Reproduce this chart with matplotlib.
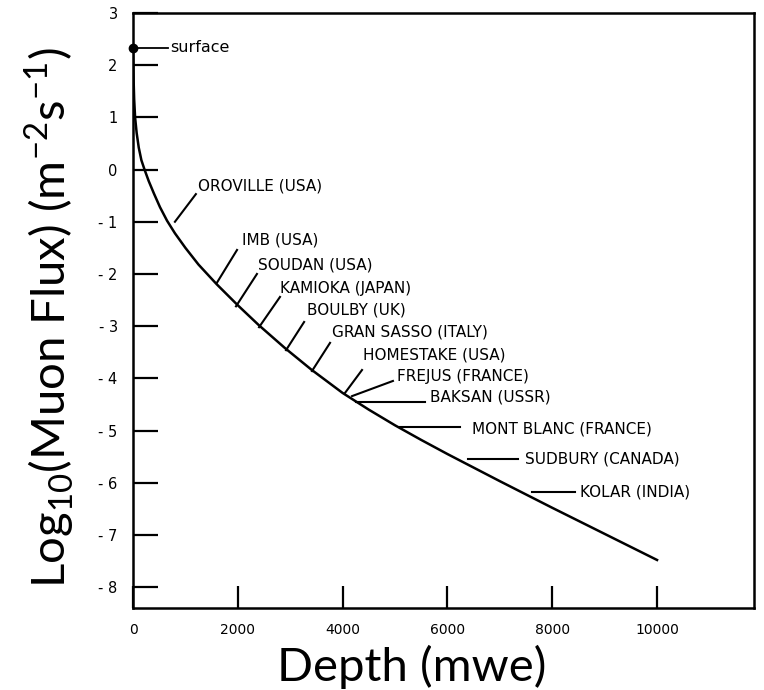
import numpy as np
import matplotlib.pyplot as plt

# muon depth-intensity curve: depth in metres water equivalent, log10 flux
depth = [0, 5, 12, 22, 40, 70, 110, 160, 220, 300, 400, 515, 650, 800,
         1000, 1250, 1600, 2000, 2400, 2900, 3400, 4000, 4500, 5000, 5500,
         6000, 7000, 8000, 9000, 10000]
log_flux = [2.33, 2.05, 1.7, 1.35, 1.0, 0.7, 0.42, 0.18, 0.0, -0.22, -0.46,
            -0.72, -0.98, -1.22, -1.5, -1.82, -2.2, -2.6, -2.98, -3.42,
            -3.83, -4.28, -4.6, -4.9, -5.18, -5.45, -5.97, -6.48, -6.98,
            -7.48]

# underground laboratories marked along the curve
sites = ['OROVILLE (USA)', 'IMB (USA)', 'SOUDAN (USA)', 'KAMIOKA (JAPAN)',
         'BOULBY (UK)', 'GRAN SASSO (ITALY)', 'HOMESTAKE (USA)',
         'FREJUS (FRANCE)', 'BAKSAN (USSR)', 'MONT BLANC (FRANCE)',
         'SUDBURY (CANADA)', 'KOLAR (INDIA)']
# pointer start (at the curve) and end, then label anchor
tip_x = [800, 1600, 1965, 2405, 2920, 3415, 4045, 4180, 4255, 5095, 6390, 7610]
tip_y = [-1.00, -2.17, -2.62, -3.02, -3.46, -3.86, -4.28, -4.34, -4.45, -4.93, -5.54, -6.18]
end_x = [1200, 1985, 2365, 2805, 3265, 3760, 4370, 4960, 5570, 6240, 7345, 8430]
end_y = [-0.47, -1.54, -2.00, -2.44, -2.92, -3.32, -3.84, -4.05, -4.45, -4.93, -5.54, -6.18]
lab_x = [1240, 2080, 2385, 2805, 3320, 3800, 4390, 5040, 5670, 6470, 7480, 8530]
lab_y = [-0.31, -1.35, -1.83, -2.27, -2.69, -3.11, -3.55, -3.97, -4.36, -4.97, -5.54, -6.18]

x_ticks = [0, 2000, 4000, 6000, 8000, 10000]
y_ticks = [-8, -7, -6, -5, -4, -3, -2, -1, 0, 1, 2, 3]
y_tick_labels = ['- 8', '- 7', '- 6', '- 5', '- 4', '- 3', '- 2', '- 1', '0', '1', '2', '3']

plt.rcParams['font.family'] = ['DejaVu Sans']
plt.rcParams['mathtext.fontset'] = 'custom'
plt.rcParams['mathtext.rm'] = 'Lato'

fig = plt.figure(figsize=(7.64, 6.9), dpi=100)
ax = fig.add_axes([133 / 764, 82 / 690, 621 / 764, 595 / 690])

ax.plot(depth, log_flux, color='black', lw=1.8, solid_joinstyle='round')
ax.plot(depth[0], log_flux[0], 'o', color='black', ms=6, clip_on=False, zorder=5)

# surface marker
ax.plot([80, 670], [log_flux[0], log_flux[0]], color='black', lw=1.3)
ax.text(705, log_flux[0], 'surface', fontsize=11.5, va='center', ha='left')

for name, x0, y0, x1, y1, tx, ty in zip(sites, tip_x, tip_y, end_x, end_y, lab_x, lab_y):
    ax.plot([x0, x1], [y0, y1], color='black', lw=1.5)
    ax.text(tx, ty, name, fontsize=11, va='center', ha='left')

ax.set_xlim(0, 11850)
ax.set_ylim(-8.4, 3)
ax.set_xticks(x_ticks)
ax.set_xticklabels([str(t) for t in x_ticks], fontsize=10)
ax.set_yticks(y_ticks)
ax.set_yticklabels(y_tick_labels, fontsize=10.5)
ax.tick_params(axis='x', direction='in', length=16, width=1.6, pad=11)
ax.tick_params(axis='y', direction='in', length=18, width=1.6, pad=11)
for s in ax.spines.values():
    s.set_linewidth(1.8)

fig.text(412 / 764, 1 / 690, 'Depth (mwe)', fontsize=34, family='Lato',
         ha='center', va='bottom')
fig.text(50 / 764, 1 - 318 / 690,
         r'Log$_{\mathregular{10}}$(Muon Flux) (m$^{\mathregular{-2}}$s$^{\mathregular{-1}}$)',
         fontsize=34, family='Lato', rotation=90, ha='center', va='center')

fig.savefig('out.png', dpi=100)
